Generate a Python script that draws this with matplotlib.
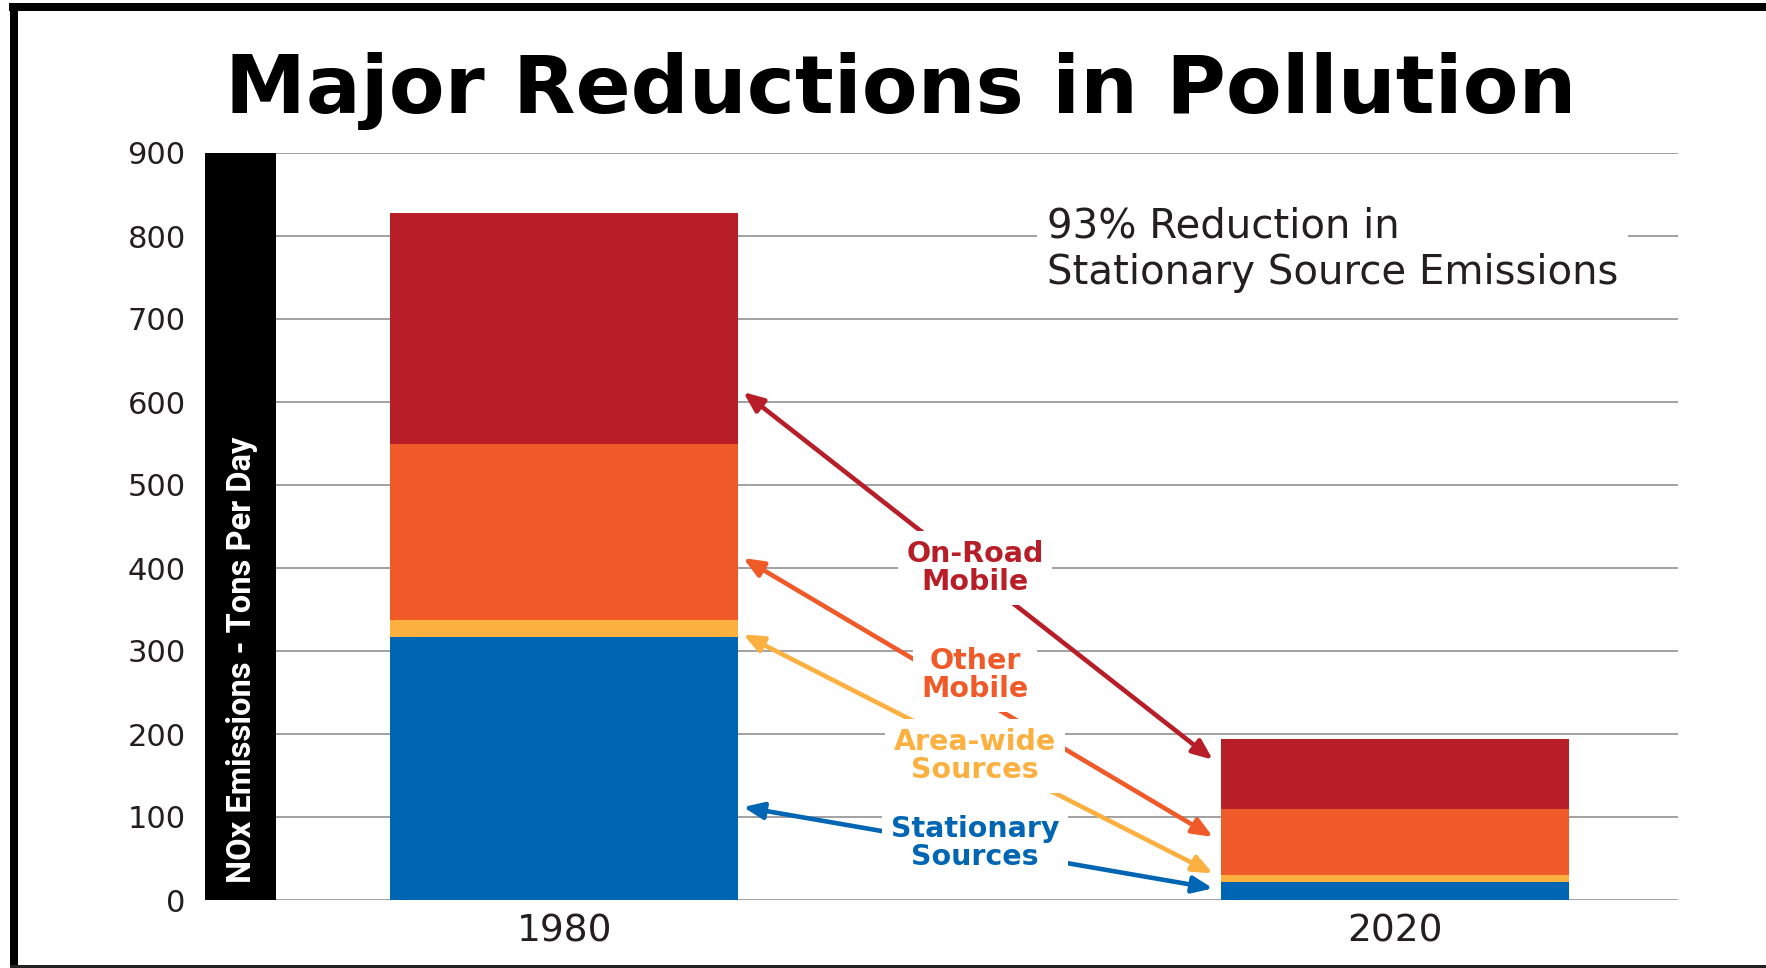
import matplotlib
matplotlib.use("Agg")
import matplotlib.pyplot as plt
from matplotlib.patches import Rectangle

# ---- data ----
years = ["1980", "2020"]
stationary = [317, 22]
area_wide = [20, 8]
other_mobile = [213, 80]
on_road = [278, 84]
yticks = [0, 100, 200, 300, 400, 500, 600, 700, 800, 900]

# arrow endpoints (value levels at the 1980 and 2020 bars)
arrow_on_road = [612, 169]
arrow_other = [412, 76]
arrow_area = [320, 32]
arrow_stat = [112, 14]

C_ROAD = "#B71E27"
C_OTHER = "#F05A29"
C_AREA = "#FBB040"
C_STAT = "#0066B3"
TXT = "#231F20"

W, H = 1766, 968
fig = plt.figure(figsize=(W / 100, H / 100), dpi=100)
fig.patch.set_facecolor("white")

# axes placement in pixels
ax_l, ax_r = 276, 1678
ax_b, ax_t = 900, 153
ax = fig.add_axes([ax_l / W, 1 - ax_b / H, (ax_r - ax_l) / W, (ax_b - ax_t) / H])

x = [0, 1]
bw = 0.419
bottoms = [0, 0]
for vals, col in [(stationary, C_STAT), (area_wide, C_AREA), (other_mobile, C_OTHER), (on_road, C_ROAD)]:
    ax.bar(x, vals, bw, bottom=bottoms, color=col, zorder=2, linewidth=0)
    bottoms = [b + v for b, v in zip(bottoms, vals)]

ax.set_xlim(-0.347, 1.341)
ax.set_ylim(0, 900)
ax.set_yticks(yticks)
ax.set_yticklabels([str(t) for t in yticks], fontsize=22, color=TXT, family="DejaVu Sans")
ax.set_xticks(x)
ax.set_xticklabels(years, fontsize=27, color=TXT, family="DejaVu Sans")
ax.tick_params(axis="y", length=0, pad=65)
ax.tick_params(axis="x", length=0, pad=10)
ax.grid(axis="y", color="#9a9a9a", linewidth=1.3, zorder=0)
ax.set_axisbelow(True)
for s in ax.spines.values():
    s.set_visible(False)

# arrows (double headed), labels drawn on top with white boxes
x1, x2 = 0.2155, 0.781
for (ya, yb), col in [(arrow_on_road, C_ROAD), (arrow_other, C_OTHER),
                      (arrow_area, C_AREA), (arrow_stat, C_STAT)]:
    ax.annotate("", xy=(x1, ya), xytext=(x2, yb),
                arrowprops=dict(arrowstyle="<|-|>,head_length=1.2,head_width=0.5",
                                color=col, lw=3.3, shrinkA=0, shrinkB=0), zorder=3)

labels = [("On-Road\nMobile", C_ROAD, 568), ("Other\nMobile", C_OTHER, 675),
          ("Area-wide\nSources", C_AREA, 756), ("Stationary\nSources", C_STAT, 843)]
for txt, col, py in labels:
    fig.text(975 / W, 1 - py / H, txt, ha="center", va="center", color=col,
             fontsize=20.5, fontweight="bold", family="DejaVu Sans", linespacing=1.0,
             zorder=5,
             bbox=dict(boxstyle="square,pad=0.3", facecolor="white", edgecolor="none"))

# note text
fig.text(1047 / W, 1 - 250 / H, "93% Reduction in\nStationary Source Emissions",
         ha="left", va="center", fontsize=29, color=TXT, family="DejaVu Sans", linespacing=1.2,
         zorder=5,
         bbox=dict(boxstyle="square,pad=0.25", facecolor="white", edgecolor="none"))

# black y-label bar
fig.patches.append(Rectangle((205 / W, 1 - 900 / H), (276 - 205) / W, (900 - 153) / H,
                             transform=fig.transFigure, facecolor="black", edgecolor="none",
                             zorder=1))
fig.text(242 / W, 1 - 660 / H, "NOx Emissions - Tons Per Day", rotation=90,
         ha="center", va="center", color="white", fontsize=23.5, fontweight="bold",
         family="Roboto", zorder=3)

# title
fig.text(901 / W, 1 - 113 / H, "Major Reductions in Pollution", ha="center", va="baseline",
         fontsize=58.5, fontweight="bold", family="DejaVu Sans", color="black")

# frame
fig.patches.append(Rectangle((9 / W, 1 - 11 / H), (W - 9) / W, 8 / H, transform=fig.transFigure,
                             facecolor="black", edgecolor="none"))
fig.patches.append(Rectangle((10 / W, 0), 8 / W, 1 - 3 / H, transform=fig.transFigure,
                             facecolor="black", edgecolor="none"))
fig.patches.append(Rectangle((10 / W, 0), (W - 10) / W, 3 / H, transform=fig.transFigure,
                             facecolor="#222222", edgecolor="none"))

fig.savefig("out.png", dpi=100, facecolor="white")
